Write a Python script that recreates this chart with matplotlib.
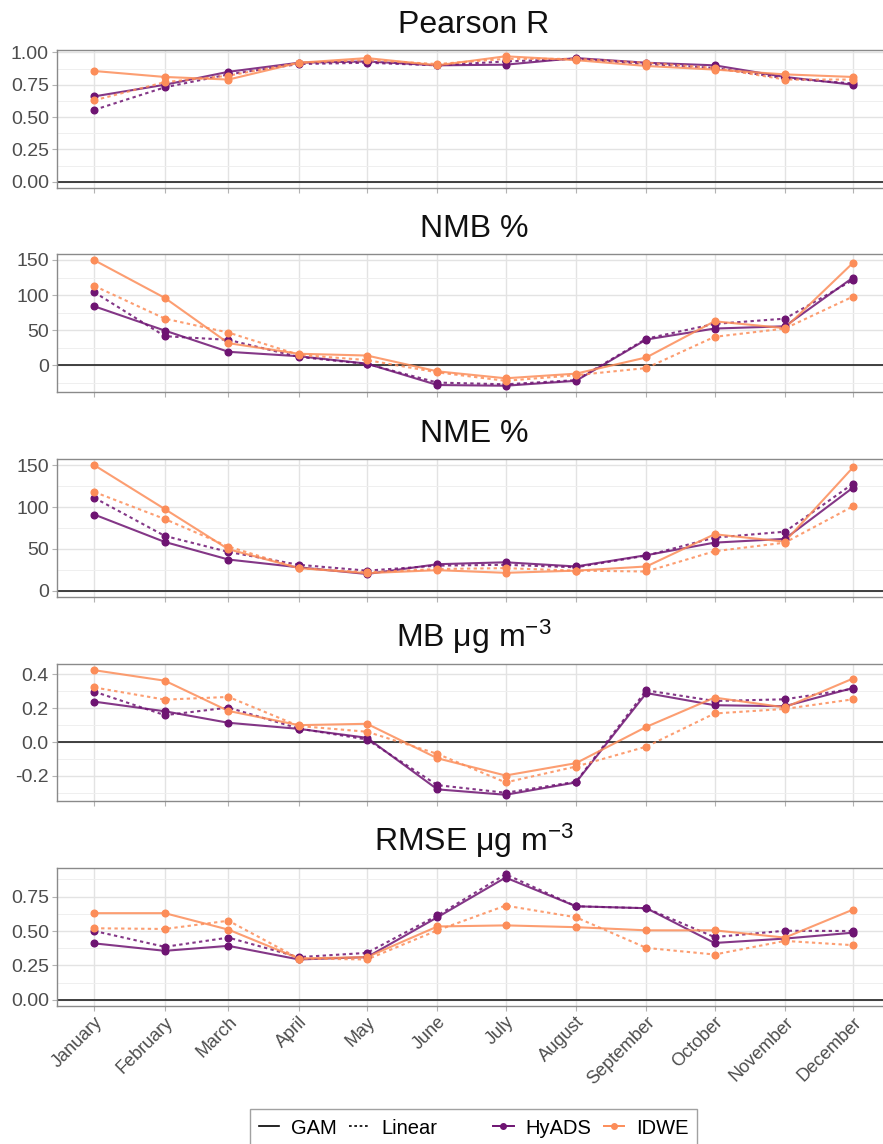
import numpy as np
import pandas as pd
import matplotlib
matplotlib.use("Agg")
import matplotlib.pyplot as plt
import matplotlib.dates as mdates
from matplotlib.lines import Line2D
from matplotlib.ticker import AutoMinorLocator

plt.rcParams['font.family'] = ['Liberation Sans', 'DejaVu Sans']
plt.rcParams['axes.unicode_minus'] = False
plt.rcParams['mathtext.fontset'] = 'custom'
plt.rcParams['mathtext.rm'] = 'Liberation Sans'
plt.rcParams['mathtext.it'] = 'Liberation Sans:italic'

# monthly dates (first of month), labels
months = pd.date_range('2011-01-01', periods=12, freq='MS')
month_labels = ['January', 'February', 'March', 'April', 'May', 'June', 'July',
                'August', 'September', 'October', 'November', 'December']

# Pearson R
r_hyads_gam = [0.66, 0.75, 0.85, 0.92, 0.93, 0.90, 0.905, 0.956, 0.92, 0.90, 0.81, 0.75]
r_hyads_lin = [0.556, 0.73, 0.83, 0.91, 0.92, 0.90, 0.93, 0.95, 0.91, 0.88, 0.80, 0.76]
r_idwe_gam = [0.856, 0.81, 0.79, 0.92, 0.956, 0.90, 0.97, 0.94, 0.895, 0.867, 0.83, 0.81]
r_idwe_lin = [0.63, 0.77, 0.82, 0.92, 0.94, 0.91, 0.95, 0.95, 0.92, 0.88, 0.79, 0.79]

# NMB %
nmb_hyads_gam = [84, 49.5, 19.3, 13, 2.4, -28, -29, -22, 36.8, 52.4, 55.6, 125]
nmb_hyads_lin = [104, 41.5, 36.3, 12, 2, -24.5, -27, -21, 38, 59, 66.5, 121.5]
nmb_idwe_gam = [149.6, 96, 31.6, 16.5, 14, -8.5, -18.4, -11.8, 11.3, 62.7, 53, 146]
nmb_idwe_lin = [113, 66.5, 46.7, 15, 7.5, -10, -22, -14, -3.8, 40.6, 52.4, 98]

# NME %
nme_hyads_gam = [91, 58.3, 37.3, 28, 20, 31.7, 34, 29, 42.5, 57.5, 62, 123.4]
nme_hyads_lin = [111, 65.5, 46.4, 31, 24, 30, 31, 28, 42, 63.5, 70.6, 128]
nme_idwe_gam = [150, 97.6, 49.6, 27, 21, 24.6, 21.4, 24, 29, 67.5, 58.7, 147.6]
nme_idwe_lin = [118, 85.7, 52.8, 27, 22, 26, 27, 24, 23, 47.2, 57.5, 101]

# MB ug m-3
mb_hyads_gam = [0.239, 0.182, 0.114, 0.078, 0.025, -0.28, -0.312, -0.239, 0.29, 0.218, 0.212, 0.32]
mb_hyads_lin = [0.298, 0.159, 0.204, 0.08, 0.015, -0.255, -0.30, -0.235, 0.306, 0.243, 0.253, 0.315]
mb_idwe_gam = [0.425, 0.363, 0.184, 0.10, 0.108, -0.096, -0.198, -0.125, 0.09, 0.263, 0.205, 0.376]
mb_idwe_lin = [0.323, 0.251, 0.267, 0.095, 0.061, -0.07, -0.239, -0.145, -0.027, 0.169, 0.196, 0.253]

# RMSE ug m-3
rmse_hyads_gam = [0.41, 0.356, 0.392, 0.293, 0.31, 0.60, 0.889, 0.68, 0.666, 0.413, 0.445, 0.488]
rmse_hyads_lin = [0.50, 0.385, 0.452, 0.31, 0.341, 0.613, 0.913, 0.68, 0.666, 0.456, 0.502, 0.50]
rmse_idwe_gam = [0.63, 0.63, 0.51, 0.30, 0.31, 0.533, 0.541, 0.528, 0.505, 0.505, 0.452, 0.656]
rmse_idwe_lin = [0.52, 0.515, 0.575, 0.30, 0.293, 0.505, 0.685, 0.60, 0.377, 0.329, 0.428, 0.397]

panels = [
    ('Pearson R', [r_hyads_gam, r_hyads_lin, r_idwe_gam, r_idwe_lin], [0, 0.25, 0.5, 0.75, 1.0], '{:.2f}'),
    ('NMB %', [nmb_hyads_gam, nmb_hyads_lin, nmb_idwe_gam, nmb_idwe_lin], [0, 50, 100, 150], '{:.0f}'),
    ('NME %', [nme_hyads_gam, nme_hyads_lin, nme_idwe_gam, nme_idwe_lin], [0, 50, 100, 150], '{:.0f}'),
    ('MB μg m$^{-3}$', [mb_hyads_gam, mb_hyads_lin, mb_idwe_gam, mb_idwe_lin], [-0.2, 0.0, 0.2, 0.4], '{:.1f}'),
    ('RMSE μg m$^{-3}$', [rmse_hyads_gam, rmse_hyads_lin, rmse_idwe_gam, rmse_idwe_lin], [0, 0.25, 0.5, 0.75], '{:.2f}'),
]

col_hyads = '#6E1472'
col_idwe = '#FC8D59'
dotted = (0, (1.6, 1.6))
styles = [(col_hyads, '-'), (col_hyads, dotted), (col_idwe, '-'), (col_idwe, dotted)]

W, H = 883, 1144
fig = plt.figure(figsize=(W / 100, H / 100), dpi=100)

# panel pixel boxes (top, bottom)
boxes = [(50, 188), (254, 392), (459, 597), (664, 801), (868, 1006)]
left_px, right_px = 56.5, 891

xnum = mdates.date2num(months)
xspan = xnum[-1] - xnum[0]
xlim = (xnum[0] - 0.05 * xspan, xnum[-1] + 0.05 * xspan)

for i, (title, series, yticks, fmt) in enumerate(panels):
    top, bot = boxes[i]
    ax = fig.add_axes([left_px / W, 1 - bot / H, (right_px - left_px) / W, (bot - top) / H])

    for s, (c, ls) in zip(series, styles):
        ax.plot(months, s, color=c, linestyle=ls, lw=1.5, alpha=0.85, zorder=3)
        ax.plot(months, s, color=c, linestyle='none', marker='o', ms=4.8, zorder=4)

    ax.axhline(0, color='#222222', lw=1.2, zorder=2)

    allv = np.concatenate([np.array(s) for s in series] + [[0.0]])
    lo, hi = allv.min(), allv.max()
    pad = 0.05 * (hi - lo)
    ax.set_ylim(lo - pad, hi + pad)
    ax.set_xlim(xlim)

    ax.set_yticks(yticks)
    ax.set_yticklabels([fmt.format(v) for v in yticks])
    ax.yaxis.set_minor_locator(AutoMinorLocator(2))
    ax.set_xticks(xnum)
    if i == len(panels) - 1:
        ax.set_xticklabels(month_labels, rotation=45, ha='right', rotation_mode='anchor')
    else:
        ax.set_xticklabels([])

    ax.grid(which='major', color='#E3E3E3', lw=1.0, zorder=0)
    ax.grid(which='minor', axis='y', color='#EFEFEF', lw=0.7, zorder=0)
    ax.set_axisbelow(True)
    for sp in ax.spines.values():
        sp.set_color('#8A8A8A')
        sp.set_linewidth(1.0)
    ax.tick_params(axis='both', which='major', length=3.5, width=0.8, color='#B3B3B3',
                   labelsize=14, labelcolor='#4D4D4D', pad=2)
    ax.tick_params(axis='x', labelsize=13)
    ax.tick_params(axis='y', which='minor', length=0)
    ax.set_title(title, fontsize=23, pad=12, color='#111111')

handles = [
    Line2D([], [], color='black', lw=1.2, linestyle='-'),
    Line2D([], [], color='black', lw=1.2, linestyle=dotted),
    Line2D([], [], color='none'),
    Line2D([], [], color=col_hyads, lw=1.4, marker='o', ms=4),
    Line2D([], [], color=col_idwe, lw=1.4, marker='o', ms=4),
]
labels = ['GAM', 'Linear', '', 'HyADS', 'IDWE']
leg = fig.legend(handles, labels, loc='center', bbox_to_anchor=(473.5 / W, 1 - 1128 / H),
                 ncol=5, frameon=True, fancybox=False, fontsize=14.5, handlelength=1.0,
                 handletextpad=0.6, columnspacing=0.6, borderpad=0.45)
leg.get_frame().set_edgecolor('#8A8A8A')
leg.get_frame().set_linewidth(1.0)

fig.savefig('out.png', dpi=100)
